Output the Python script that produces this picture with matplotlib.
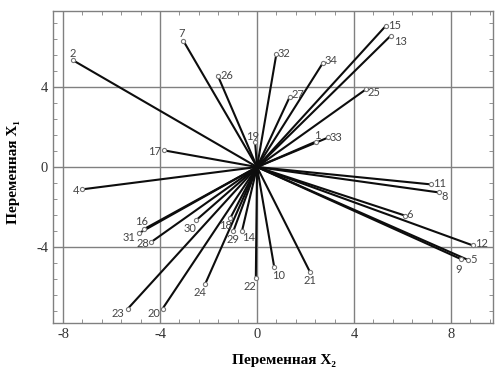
import numpy as np
import matplotlib
matplotlib.use('Agg')
import matplotlib.pyplot as plt
from matplotlib.ticker import MultipleLocator

plt.rcParams['axes.unicode_minus'] = False

# Номера объектов и их координаты (Переменная X2, Переменная X1)
numeros = ['1', '2', '4', '5', '6', '7', '8', '9', '10', '11', '12', '13', '14', '15', '16', '17',
           '18', '19', '20', '21', '22', '23', '24', '25', '26', '27', '28', '29', '30', '31', '32',
           '33', '34']
x2 = [2.42, -7.60, -7.23, 8.70, 6.10, -3.04, 7.49, 8.43, 0.71, 7.18, 8.89, 5.51, -0.62, 5.32,
      -4.65, -3.82, -1.10, -0.08, -3.89, 2.19, -0.05, -5.32, -2.13, 4.48, -1.62, 1.35, -4.36,
      -0.98, -2.52, -4.88, 0.80, 2.94, 2.72]
x1 = [1.27, 5.35, -1.12, -4.65, -2.43, 6.32, -1.27, -4.62, -5.02, -0.87, -3.92, 6.57, -3.20, 7.08,
      -3.10, 0.83, -2.55, 1.25, -7.08, -5.27, -5.57, -7.08, -5.83, 3.88, 4.58, 3.52, -3.75,
      -3.22, -2.67, -3.32, 5.68, 1.48, 5.22]

# Смещения подписей в пикселях (dx, dy)
desplaz = {'1': (2, 6), '2': (0, 7), '4': (-6, -1), '5': (6, 0), '6': (5, 1), '7': (-2, 7),
           '8': (6, -4), '9': (-3, -10), '10': (4, -8), '11': (8, 1), '12': (9, 2), '13': (10, -6),
           '14': (7, -7), '15': (8, 0), '16': (-3, 7), '17': (-10, -1), '18': (-5, -8),
           '19': (-2, 6), '20': (-9, -5), '21': (0, -8), '22': (-6, -8), '23': (-10, -5),
           '24': (-5, -9), '25': (8, -3), '26': (9, 0), '27': (8, 2), '28': (-8, -2),
           '29': (0, -8), '30': (-6, -8), '31': (-10, -4), '32': (8, 0), '33': (8, 0),
           '34': (8, 2)}

fig = plt.figure(figsize=(4.96, 3.72), dpi=100)
ax = fig.add_axes([0.107, 0.132, 0.887, 0.838])

# Линии от начала координат к каждой точке
for n, a, b in zip(numeros, x2, x1):
    ax.plot([0, a], [0, b], color='#0d0d0d', linewidth=1.5, zorder=3)
ax.scatter(x2, x1, s=9, facecolors='white', edgecolors='#777777', linewidths=0.8, zorder=4)

for n, a, b in zip(numeros, x2, x1):
    dx, dy = desplaz[n]
    ax.annotate(n, (a, b), xytext=(dx, dy), textcoords='offset pixels', ha='center', va='center',
                fontsize=8, family='Lato', color='#444444', zorder=5)

ax.set_xlim(-8.41, 9.73)
ax.set_ylim(-7.8, 7.8)
ax.xaxis.set_major_locator(MultipleLocator(4))
ax.yaxis.set_major_locator(MultipleLocator(4))
ax.xaxis.set_minor_locator(MultipleLocator(0.8))
ax.yaxis.set_minor_locator(MultipleLocator(0.8))
ax.tick_params(which='both', direction='in', top=True, right=True, colors='#808080',
               labelcolor='#333333', labelsize=10.5)
ax.tick_params(which='major', length=0)
ax.tick_params(which='minor', length=3)
for lab in ax.get_xticklabels() + ax.get_yticklabels():
    lab.set_family('Liberation Serif')

ax.grid(True, which='major', color='#808080', linewidth=1)
for s in ax.spines.values():
    s.set_color('#808080')
    s.set_linewidth(1)

fuente = ['Liberation Serif', 'DejaVu Serif']
xl = ax.set_xlabel('Переменная X₂', family=fuente, fontweight='bold', fontsize=11)
yl = ax.set_ylabel('Переменная X₁', family=fuente, fontweight='bold', fontsize=11)
xl.set_va('center')
yl.set_va('center')
ax.xaxis.set_label_coords(0.525, -0.122)
ax.yaxis.set_label_coords(-0.091, 0.484)

fig.savefig('out.png', dpi=100)
